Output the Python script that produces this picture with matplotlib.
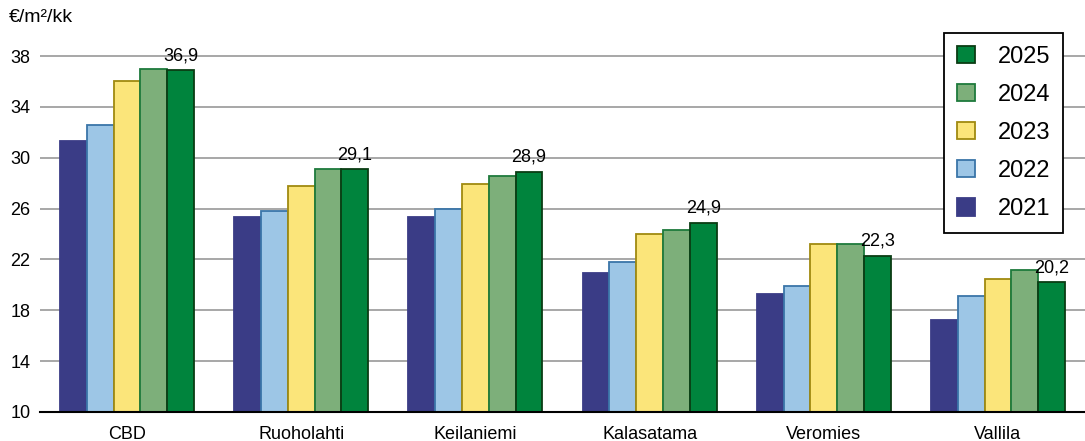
import matplotlib.pyplot as plt
import numpy as np

plt.rcParams["font.family"] = ["Liberation Sans", "DejaVu Sans"]

CATEGORIES = ["CBD", "Ruoholahti", "Keilaniemi", "Kalasatama", "Veromies", "Vallila"]
YEARS = ["2021", "2022", "2023", "2024", "2025"]

RENT_2021 = [31.3, 25.3, 25.3, 20.9, 19.3, 17.2]
RENT_2022 = [32.6, 25.8, 26.0, 21.8, 19.9, 19.1]
RENT_2023 = [36.0, 27.8, 27.9, 24.0, 23.2, 20.5]
RENT_2024 = [37.0, 29.1, 28.6, 24.3, 23.2, 21.2]
RENT_2025 = [36.9, 29.1, 28.9, 24.9, 22.3, 20.2]

SERIES = [RENT_2021, RENT_2022, RENT_2023, RENT_2024, RENT_2025]
FACE = ["#3a3c86", "#9dc6e6", "#fbe57a", "#7daf7a", "#00843d"]
EDGE = ["#3a3c86", "#3a75a8", "#a08a10", "#1e7a3c", "#0b3d14"]

fig = plt.figure(figsize=(10.85, 4.41), dpi=100)
ax = fig.add_axes([40 / 1085, 1 - 412 / 441, 1045 / 1085, (412 - 30.6) / 441])

x = np.arange(len(CATEGORIES))
width = 0.154
for i, (vals, fc, ec) in enumerate(zip(SERIES, FACE, EDGE)):
    offs = (i - 2) * width
    ax.bar(x + offs, np.array(vals) - 10, width, bottom=10, color=fc,
           edgecolor=ec, linewidth=1.3, label=YEARS[i], zorder=3)

# value labels over the latest year
for xi, v in zip(x, RENT_2025):
    ax.annotate(f"{v:.1f}".replace(".", ","), (xi + 2 * width, v),
                xytext=(0, 7), textcoords="offset points",
                ha="center", va="baseline", fontsize=13, zorder=5)

ax.set_xlim(-0.5, len(CATEGORIES) - 0.5)
ax.set_ylim(10, 40)
ax.set_yticks(range(10, 39, 4))
ax.set_xticks(x)
ax.set_xticklabels(CATEGORIES, fontsize=13)
ax.tick_params(axis="y", length=0, labelsize=13, pad=7)
ax.tick_params(axis="x", length=0, pad=10)
ax.grid(axis="y", color="#a0a0a0", linewidth=1.3, zorder=0)
ax.set_axisbelow(True)
for s in ("left", "right", "top"):
    ax.spines[s].set_visible(False)
ax.spines["bottom"].set_color("black")
ax.spines["bottom"].set_linewidth(1.5)
ax.spines["bottom"].set_zorder(4)

fig.text(9 / 1085, 1 - 18 / 441, "€/m²/kk", fontsize=14, va="center", ha="left")

handles, labels = ax.get_legend_handles_labels()
leg = ax.legend(handles[::-1], labels[::-1], loc="upper right",
                bbox_to_anchor=(0.979, 0.994), fontsize=17, frameon=True,
                fancybox=False, edgecolor="black", framealpha=1,
                handlelength=0.75, handleheight=0.75, handletextpad=0.95,
                labelspacing=0.68, borderpad=0.55, borderaxespad=0)
leg.get_frame().set_linewidth(1.3)
leg.set_zorder(6)

fig.savefig("out.png", dpi=100)
